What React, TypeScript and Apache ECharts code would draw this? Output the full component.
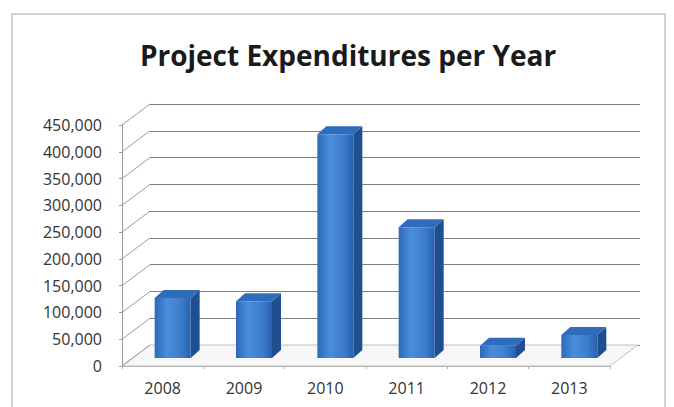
import React, { useEffect, useRef } from "react";
import * as echarts from "echarts";

const years = ["2008", "2009", "2010", "2011", "2012", "2013"];
const expenditures = [112000, 106000, 418000, 244000, 23000, 43000];
const yMin = 0;
const yMax = 450000;
const yStep = 50000;
const tickValues = [0, 50000, 100000, 150000, 200000, 250000, 300000, 350000, 400000, 450000];

const DX = 28;
const DY = -21;

export default function App() {
  const ref = useRef<HTMLDivElement>(null);
  useEffect(() => {
    if (!ref.current) return;
    const chart = echarts.init(ref.current, undefined, { renderer: "svg" });
    const font = "'Open Sans', sans-serif";
    const valueAxisBase = { type: "value", min: yMin, max: yMax, interval: yStep };
    const option: any = {
      animation: false,
      backgroundColor: "#ffffff",
      title: {
        text: "Project Expenditures per Year",
        left: 343,
        textAlign: "center",
        top: 36,
        textStyle: { fontFamily: font, fontWeight: "bold", fontSize: 28, color: "#1a1a1a" },
      },
      graphic: [
        {
          type: "rect",
          shape: { x: 12, y: 14, width: 653, height: 420 },
          style: { fill: "none", stroke: "#c4c4c4", lineWidth: 1.5 },
          silent: true,
        },
      ],
      grid: [
        { left: 150, right: 34, top: 104, bottom: 62 },
        { left: 122, right: 64, top: 125, bottom: 41 },
        { left: 132, right: 54, top: 117, bottom: 49 },
      ],
      xAxis: [
        { type: "category", gridIndex: 0, data: years, show: false },
        {
          type: "category",
          gridIndex: 1,
          data: years,
          axisLine: { show: true, lineStyle: { color: "#b0b0b0" } },
          axisTick: { show: true, length: 3, lineStyle: { color: "#b0b0b0" } },
          axisLabel: { fontFamily: font, fontSize: 16, color: "#333", margin: 14 },
        },
        { type: "category", gridIndex: 2, data: years, show: false },
      ],
      yAxis: [
        {
          ...valueAxisBase,
          gridIndex: 0,
          axisLine: { show: false },
          axisTick: { show: false },
          axisLabel: { show: false },
          splitLine: { show: true, lineStyle: { color: "#7f7f7f", width: 1 } },
        },
        {
          ...valueAxisBase,
          gridIndex: 1,
          axisLine: { show: true, lineStyle: { color: "#9a9a9a" } },
          axisTick: { show: true, length: 3, lineStyle: { color: "#9a9a9a" } },
          axisLabel: {
            fontFamily: font,
            fontSize: 16,
            color: "#333",
            margin: 20,
            padding: [8, 0, 0, 0],
            formatter: (v: number) => v.toLocaleString("en-US"),
          },
          splitLine: { show: false },
        },
        { ...valueAxisBase, gridIndex: 2, show: false, splitLine: { show: false } },
      ],
      series: [
        {
          type: "custom",
          xAxisIndex: 1,
          yAxisIndex: 1,
          silent: true,
          data: tickValues.map((v) => [0, v]),
          encode: { x: 0, y: 1 },
          renderItem: (params: any, api: any) => {
            const cs = params.coordSys;
            const v = api.value(1);
            const y = api.coord([0, v])[1];
            const children: any[] = [
              {
                type: "line",
                shape: { x1: cs.x, y1: y, x2: cs.x + DX, y2: y + DY },
                style: { stroke: "#9a9a9a", lineWidth: 1 },
              },
            ];
            if (v === 0) {
              children.push({
                type: "polygon",
                shape: {
                  points: [
                    [cs.x, y],
                    [cs.x + cs.width, y],
                    [cs.x + cs.width + DX, y + DY],
                    [cs.x + DX, y + DY],
                  ],
                },
                style: { fill: "#f7f7f7", stroke: "#c0c0c0", lineWidth: 1 },
                z2: -1,
              });
            }
            return { type: "group", children };
          },
          z: 1,
        },
        {
          type: "custom",
          xAxisIndex: 2,
          yAxisIndex: 2,
          silent: true,
          data: expenditures.map((v, i) => [i, v]),
          encode: { x: 0, y: 1 },
          renderItem: (params: any, api: any) => {
            const i = api.value(0);
            const v = api.value(1);
            const top = api.coord([i, v]);
            const base = api.coord([i, 0]);
            const hw = 18;
            const dx = 9;
            const dy = -8;
            const cx = top[0];
            const l = cx - hw;
            const r = cx + hw;
            const ty = top[1];
            const by = base[1];
            return {
              type: "group",
              children: [
                {
                  type: "polygon",
                  shape: { points: [[r, ty], [r + dx, ty + dy], [r + dx, by + dy], [r, by]] },
                  style: { fill: "#1f4f8e" },
                },
                {
                  type: "polygon",
                  shape: { points: [[l, ty], [l + dx, ty + dy], [r + dx, ty + dy], [r, ty]] },
                  style: { fill: "#2f6cbc" },
                },
                {
                  type: "rect",
                  shape: { x: l, y: ty, width: r - l, height: by - ty },
                  style: {
                    fill: new echarts.graphic.LinearGradient(0, 0, 1, 0, [
                      { offset: 0, color: "#2d69b8" },
                      { offset: 0.35, color: "#4a8edb" },
                      { offset: 0.75, color: "#3b7bcb" },
                      { offset: 1, color: "#2a60aa" },
                    ]),
                  },
                },
              ],
            };
          },
          z: 3,
        },
      ],
    };
    chart.setOption(option);
    return () => chart.dispose();
  }, []);
  return (
    <div
      ref={ref}
      style={{ position: "fixed", left: 0, top: 0, width: 674, height: 407 }}
    />
  );
}
